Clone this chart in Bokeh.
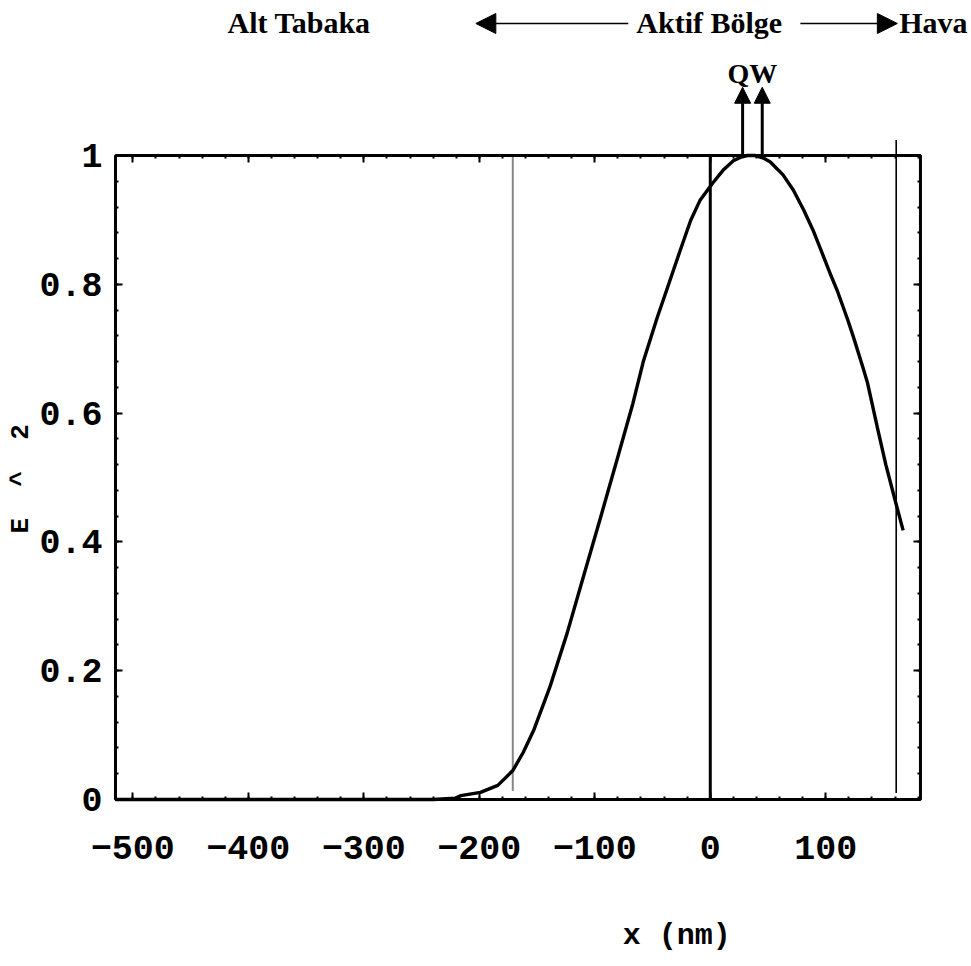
from math import pi

from bokeh.embed import file_html
from bokeh.models import (Arrow, BoxAnnotation, CustomJSTickFormatter, Label,
                          LinearAxis, NormalHead, Range1d, SingleIntervalTicker)
from bokeh.plotting import figure
from bokeh.resources import INLINE

# Normalised field intensity |E|^2 across the layer stack (x in nm)
x_nm = [-515, -240, -221, -216, -199, -184, -171, -162, -153, -139, -124,
        -110, -95, -81, -67, -58, -46, -37, -26, -17, -9, 2, 11, 20, 26, 32,
        39, 46, 52, 63, 72, 81, 89, 95, 104, 110, 119, 124, 132, 136, 145,
        152, 160, 167]
e_sq = [0.0, 0.0, 0.002, 0.006, 0.011, 0.022, 0.045, 0.073, 0.107, 0.174,
        0.258, 0.345, 0.438, 0.526, 0.615, 0.68, 0.748, 0.795, 0.853, 0.899,
        0.93, 0.957, 0.977, 0.992, 0.997, 1.0, 1.0, 0.996, 0.99, 0.97, 0.946,
        0.915, 0.884, 0.857, 0.816, 0.79, 0.745, 0.718, 0.672, 0.648, 0.575,
        0.52, 0.465, 0.418]

# Layer interfaces
substrate_edge = -171
active_edge = 0
air_edge = 161

# Quantum well positions
qw_x = [28, 45]

region_labels = ["Alt Tabaka", "Aktif Bölge", "Hava"]
x_title = "x (nm)"
# non-breaking spaces keep the wide letter spacing in SVG text
y_title = "E\u00a0\u00a0^\u00a0\u00a02"

# Plot box limits
X_MIN, X_MAX = -515, 182
Y_MIN, Y_MAX = 0, 1

# The canvas is one frame; the plot box sits inside it so that captions,
# arrows and axis titles around the box share the same data scale.
p = figure(width=971, height=966, output_backend="svg", toolbar_location=None,
           x_range=Range1d(-614.6, 226.2), y_range=Range1d(-0.2593, 1.2407),
           x_axis_location=None, y_axis_location=None,
           min_border=0, min_border_left=0, min_border_right=0,
           min_border_top=0, min_border_bottom=0)
p.xgrid.visible = False
p.ygrid.visible = False
p.background_fill_color = "white"
p.border_fill_color = "white"
p.outline_line_color = None

TICK_FONT = "Liberation Mono"
SERIF = "Liberation Serif"


def style_axis(ax, labels):
    ax.axis_line_color = None
    ax.major_tick_in = 7
    ax.major_tick_out = 0
    ax.minor_tick_in = 3
    ax.minor_tick_out = 0
    ax.major_tick_line_width = 2
    ax.minor_tick_line_width = 2
    ax.major_tick_line_color = "black"
    ax.minor_tick_line_color = "black"
    if labels:
        ax.major_label_text_font = TICK_FONT
        ax.major_label_text_font_style = "bold"
        ax.major_label_text_font_size = "35px"
        ax.major_label_text_color = "black"
    else:
        ax.formatter = CustomJSTickFormatter(code="return ''")
        ax.major_label_text_font_size = "1px"


def x_axis(loc, labels):
    ax = LinearAxis(ticker=SingleIntervalTicker(interval=100, num_minor_ticks=5),
                    fixed_location=loc, bounds=(X_MIN, X_MAX))
    style_axis(ax, labels)
    return ax


def y_axis(loc, labels):
    ax = LinearAxis(ticker=SingleIntervalTicker(interval=0.2, num_minor_ticks=5),
                    fixed_location=loc, bounds=(Y_MIN, Y_MAX))
    style_axis(ax, labels)
    return ax


bottom = x_axis(Y_MIN, True)
bottom.major_label_standoff = 36
p.add_layout(bottom, "below")
p.add_layout(x_axis(Y_MAX, False), "above")

left = y_axis(X_MIN, True)
left.formatter = CustomJSTickFormatter(
    code="return tick.toFixed(1).replace(/\\.0$/, '');")
left.major_label_standoff = 13
p.add_layout(left, "left")
p.add_layout(y_axis(X_MAX, False), "right")

# Interfaces
p.segment(x0=[substrate_edge], y0=[0.014], x1=[substrate_edge], y1=[Y_MAX],
          line_color="#111111", line_width=2, line_dash="1 1")
p.segment(x0=[active_edge], y0=[Y_MIN], x1=[active_edge], y1=[Y_MAX],
          line_color="black", line_width=3)
p.segment(x0=[air_edge], y0=[0.01], x1=[air_edge], y1=[1.024],
          line_color="black", line_width=1.6)

# Field profile
p.line(x_nm, e_sq, line_color="black", line_width=3.4, line_join="round")

# Plot box
p.add_layout(BoxAnnotation(left=X_MIN, right=X_MAX, bottom=Y_MIN, top=Y_MAX,
                           fill_alpha=0, line_color="black", line_alpha=1,
                           line_width=3))

# Quantum well markers
for xq in qw_x:
    p.add_layout(Arrow(x_start=xq, y_start=Y_MAX, x_end=xq, y_end=1.106,
                       end=NormalHead(size=16, fill_color="black",
                                      line_color="black", line_width=1),
                       line_color="black", line_width=3))
p.add_layout(Label(x=sum(qw_x) / 2, y=1.1275, text="QW", text_font=SERIF,
                   text_font_style="bold", text_font_size="28px",
                   text_color="black",
                   text_align="center", text_baseline="alphabetic"))

# Region captions along the top
cap_y = 1.2065
arrow_y = 1.205
cap_x = [-418, -64, 163.6]
for cx, txt in zip(cap_x, region_labels):
    p.add_layout(Label(x=cx, y=cap_y, text=txt, text_font=SERIF,
                       text_font_style="bold", text_font_size="30px",
                       text_color="black",
                       text_align="left", text_baseline="alphabetic"))
p.add_layout(Arrow(x_start=-71, y_start=arrow_y, x_end=-203, y_end=arrow_y,
                   end=NormalHead(size=20, fill_color="black",
                                  line_color="black", line_width=1),
                   line_color="black", line_width=1.6))
p.add_layout(Arrow(x_start=78, y_start=arrow_y, x_end=162, y_end=arrow_y,
                   end=NormalHead(size=20, fill_color="black",
                                  line_color="black", line_width=1),
                   line_color="black", line_width=1.6))

# Axis titles
p.add_layout(Label(x=-29, y=-0.212, text=x_title, text_font=TICK_FONT,
                   text_font_style="bold", text_font_size="30px",
                   text_color="black",
                   text_align="center", text_baseline="middle"))
p.add_layout(Label(x=-597, y=0.498, text=y_title, text_font=TICK_FONT,
                   text_font_style="bold", text_font_size="26px",
                   text_color="black",
                   text_align="center", text_baseline="middle", angle=pi / 2))

open("out.html", "w").write(file_html(p, INLINE))
